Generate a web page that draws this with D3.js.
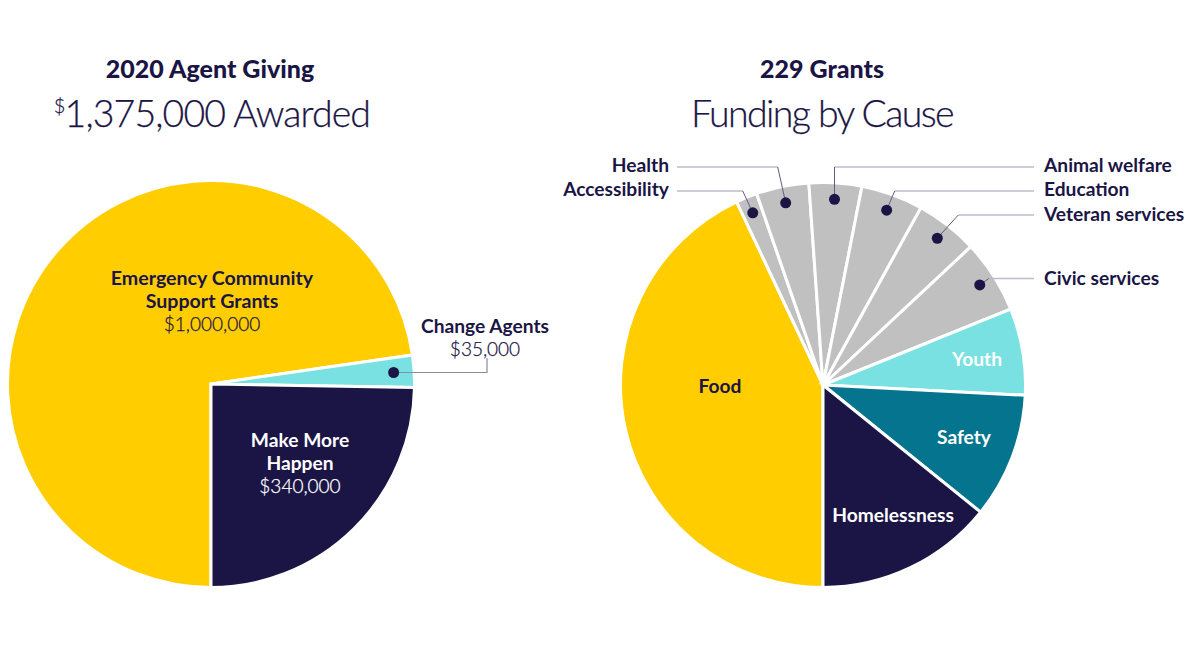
<!DOCTYPE html>
<html><head><meta charset="utf-8">
<script src="https://cdn.jsdelivr.net/npm/d3@7/dist/d3.min.js"></script>
<style>html,body{margin:0;background:#fff}svg{display:block}text{font-family:Lato,"Open Sans",sans-serif;fill:#1b1545}</style>
</head><body><svg id="c" width="1200" height="650"></svg>
<script>
const awardCategories = ["Emergency Community Support Grants","Change Agents","Make More Happen"];
const awardValues = [1000000,35000,340000];
const causeCategories = ["Food","Accessibility","Health","Animal welfare","Education","Veteran services","Civic services","Youth","Safety","Homelessness"];
const causeValues = [43,1.7,4.2,4.2,4.95,5,5.85,6.93,10,14.2];
const NAVY="#1b1545",GOLD="#ffcd00",TEAL="#79e1e1",DTEAL="#05758f",GREY="#c0c0c0";
const awardColors=[GOLD,TEAL,NAVY];
const causeColors=[GOLD,GREY,GREY,GREY,GREY,GREY,GREY,TEAL,DTEAL,NAVY];
const svg=d3.select("#c");
const pie=d3.pie().sort(null).startAngle(Math.PI).endAngle(3*Math.PI);
function drawPie(cx,cy,r,vals,cols){
  const g=svg.append("g").attr("transform",`translate(${cx},${cy})`);
  const arcs=pie(vals);
  g.selectAll("path").data(arcs).join("path")
    .attr("d",d3.arc().innerRadius(0).outerRadius(r))
    .attr("fill",(d,i)=>cols[i]).attr("stroke","#fff").attr("stroke-width",3).attr("stroke-linejoin","miter");
  return {arcs,g};
}
function txt(x,y,s,size,w,anchor,fill,sp){
  const col=fill||NAVY;
  const e=svg.append("text").attr("x",x).attr("y",y).text(s).attr("font-size",size).attr("font-weight",w)
   .attr("text-anchor",anchor||"middle").style("fill",col).attr("letter-spacing",sp||0);
  if(w===300) e.style("stroke",col).style("stroke-width",0.25);
  return e;
}
function dotAt(cx,cy,a,r){const p=d3.arc().innerRadius(r).outerRadius(r).centroid(a);return [cx+p[0],cy+p[1]];}
const L=drawPie(211,384,203.5,awardValues,awardColors);
const R=drawPie(823,385,202.5,causeValues,causeColors);

// titles
txt(210,78,"2020 Agent Giving",25,900);
const t=txt(212,127,"",37.5,300,"middle",NAVY,-0.9);
t.append("tspan").text("$").attr("font-size",20).attr("dy",-14);
t.append("tspan").text("1,375,000 Awarded").attr("dy",14);
txt(822,78,"229 Grants",25,900);
txt(822,127,"Funding by Cause",37.5,300,"middle",NAVY,-1.6);

const B=19.2;
// left labels
txt(212,285,"Emergency Community",19.6,700);
txt(212,308,"Support Grants",19.6,700);
txt(212,331,"$1,000,000",19,300);
txt(485,333,awardCategories[1],B,700);
txt(485,356,"$35,000",19,300);
txt(300,447,"Make More",B,700,"middle","#fff");
txt(300,470,"Happen",B,700,"middle","#fff");
txt(300,493,"$340,000",19,300,"middle","#fff");

// leader left
const pa=dotAt(211,384,L.arcs[1],183);
svg.append("path").attr("d",d3.line()([pa,[487,pa[1]],[487,358]])).attr("fill","none").attr("stroke","#8d8ba2").attr("stroke-width",1.2);
svg.append("circle").attr("cx",pa[0]).attr("cy",pa[1]).attr("r",5.5).attr("fill",NAVY);

// right labels inside
txt(720,393,"Food",B,700);
txt(977,366,"Youth",B,700,"middle","#fff");
txt(964,444,"Safety",B,700,"middle","#fff");
txt(893,522,"Homelessness",B,700,"middle","#fff");

// callouts: [slice index, text baseline, leader y, elbow dx from dot, label side]
const callouts=[[1,196,191,-10,-1],[2,172,167,-8,-1],[3,172,167,0,1],[4,196,191,8,1],[5,221,215,21,1],[6,285,278.5,9,1]];
callouts.forEach(([i,y,ly,ex,side])=>{
  const p=dotAt(823,385,R.arcs[i],186);
  const end=side<0?677:1034, labX=side<0?669:1044;
  svg.append("path").attr("d",d3.line()([[end,ly],[p[0]+ex,ly]])).attr("fill","none").attr("stroke","#bdbbca").attr("stroke-width",1.5);
  svg.append("path").attr("d",d3.line()([[p[0]+ex,ly],p])).attr("fill","none").attr("stroke","#5f5c82").attr("stroke-width",1);
  svg.append("circle").attr("cx",p[0]).attr("cy",p[1]).attr("r",5.5).attr("fill",NAVY);
  txt(labX,y,causeCategories[i],B,700,side<0?"end":"start");
});
</script></body></html>
